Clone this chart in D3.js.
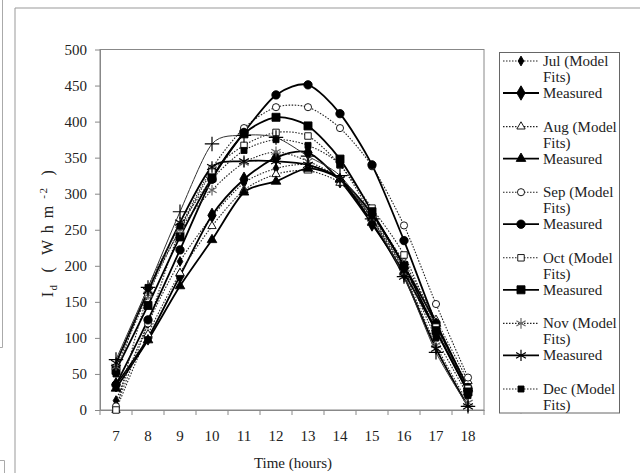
<!DOCTYPE html>
<html>
<head>
<meta charset="UTF-8">
<script src="https://d3js.org/d3.v7.min.js"></script>
<style>
  * { margin: 0; padding: 0; }
  body { background: #fff; }
  text { font-family: "Liberation Serif", "Times New Roman", serif; fill: #222; }
</style>
</head>
<body>
<div id="chart"></div>
<script>
// hours of the day
const hours = [7, 8, 9, 10, 11, 12, 13, 14, 15, 16, 17, 18];
const yTicks = [0, 50, 100, 150, 200, 250, 300, 350, 400, 450, 500];

// Id values (W h m-2)
const julModel    = [13, 120, 206, 268, 315, 335, 340, 320, 265, 195, 115, 35];
const julMeasured = [35, 100, 186, 270, 320, 350, 357, 318, 258, 190, 110, 25];
const augModel    = [0, 105, 190, 255, 305, 327, 332, 315, 270, 205, 125, 40];
const augMeasured = [30, 97, 172, 236, 302, 317, 335, 320, 272, 200, 120, 30];
const sepModel    = [5, 120, 250, 335, 391, 420, 420, 391, 338, 256, 147, 45];
const sepMeasured = [35, 125, 222, 320, 385, 437, 451, 411, 340, 235, 120, 30];
const octModel    = [0, 160, 250, 330, 367, 385, 380, 340, 280, 215, 115, 30];
const octMeasured = [55, 145, 240, 322, 383, 406, 394, 348, 275, 200, 110, 25];
const novModel    = [60, 160, 250, 305, 343, 358, 345, 320, 265, 190, 90, 10];
const novMeasured = [65, 165, 260, 337, 345, 345, 340, 320, 260, 185, 85, 5];
const decModel    = [50, 170, 255, 320, 360, 375, 367, 340, 270, 195, 100, 20];
const decMeasured = [70, 170, 275, 369, 381, 378, 352, 325, 265, 185, 80, 5];

const series = [
  {name: "Jul (Model", values: julModel, kind: "model", sym: d3.symbolDiamond, fill: "#000", size: 28},
  {name: "Measured", values: julMeasured, kind: "meas", sym: d3.symbolDiamond, fill: "#000", size: 60},
  {name: "Aug (Model", values: augModel, kind: "model", sym: d3.symbolTriangle, fill: "#fff", size: 30},
  {name: "Measured", values: augMeasured, kind: "meas", sym: d3.symbolTriangle, fill: "#000", size: 40},
  {name: "Sep (Model", values: sepModel, kind: "model", sym: d3.symbolCircle, fill: "#fff", size: 40},
  {name: "Measured", values: sepMeasured, kind: "meas", sym: d3.symbolCircle, fill: "#000", size: 55},
  {name: "Oct (Model", values: octModel, kind: "model", sym: d3.symbolSquare, fill: "#fff", size: 42},
  {name: "Measured", values: octMeasured, kind: "meas", sym: d3.symbolSquare, fill: "#000", size: 64},
  {name: "Nov (Model", values: novModel, kind: "model", sym: d3.symbolAsterisk, fill: "none", size: 80},
  {name: "Measured", values: novMeasured, kind: "meas", sym: d3.symbolAsterisk, fill: "none", size: 90},
  {name: "Dec (Model", values: decModel, kind: "model", sym: d3.symbolSquare, fill: "#000", size: 36},
  {name: "Measured", values: decMeasured, kind: "thin", sym: d3.symbolPlus, fill: "none", size: 70}
];

const FONT = "Liberation Serif";
const W = 640, H = 473;
const svg = d3.select("#chart").append("svg")
  .attr("width", W).attr("height", H);

// page frame bits
svg.append("path")
  .attr("d", "M15,473 V8 H640")
  .attr("fill", "none").attr("stroke", "#999").attr("stroke-width", 1);
svg.append("path")
  .attr("d", "M2.5,0 V347.5 H0")
  .attr("fill", "none").attr("stroke", "#aaa").attr("stroke-width", 1);
svg.append("path")
  .attr("d", "M0,460.5 H4.5 V473")
  .attr("fill", "none").attr("stroke", "#aaa").attr("stroke-width", 1);

const x = d3.scaleBand().domain(hours).range([100, 484]);
const y = d3.scaleLinear().domain([0, 500]).range([410, 49.5]);
const cx = h => x(h) + x.bandwidth() / 2;

// plot box
svg.append("rect")
  .attr("x", 100).attr("y", 49.5).attr("width", 384).attr("height", 360.5)
  .attr("fill", "none").attr("stroke", "#888").attr("stroke-width", 1);

// y axis
const yAxis = svg.append("g")
  .attr("transform", "translate(100,0)")
  .call(d3.axisLeft(y).tickValues(yTicks).tickSize(5).tickPadding(8).tickSizeOuter(0));
yAxis.select(".domain").attr("stroke", "#888");
yAxis.selectAll("line").attr("stroke", "#888");
yAxis.selectAll("text").style("font-size", "15px").style("font-family", FONT).style("fill", "#222");

// x axis
const xAxis = svg.append("g")
  .attr("transform", "translate(0,410)")
  .call(d3.axisBottom(x).tickSize(0).tickPadding(20).tickSizeOuter(0));
xAxis.select(".domain").attr("stroke", "#888");
xAxis.selectAll("text").style("font-size", "15px").style("font-family", FONT).style("fill", "#222");
xAxis.selectAll(".bnd")
  .data(hours.concat(["end"]))
  .enter().append("line")
  .attr("class", "bnd")
  .attr("x1", d => d === "end" ? x.range()[1] : x(d))
  .attr("x2", d => d === "end" ? x.range()[1] : x(d))
  .attr("y1", 0).attr("y2", 5)
  .attr("stroke", "#888");

// axis titles
svg.append("text")
  .attr("x", 293).attr("y", 468)
  .attr("text-anchor", "middle")
  .style("font-size", "15px").style("font-family", FONT)
  .text("Time (hours)");

const yl = svg.append("text")
  .attr("transform", "translate(53,233) rotate(-90)")
  .attr("text-anchor", "middle")
  .attr("xml:space", "preserve")
  .style("font-size", "16px").style("font-family", FONT)
  .style("letter-spacing", "1.5px");
yl.append("tspan").text("I");
yl.append("tspan").attr("dy", 4).style("font-size", "11px").text("d");
yl.append("tspan").attr("dy", -4).text("  (  W h m ");
yl.append("tspan").attr("dy", -6).style("font-size", "11px").text("-2");
yl.append("tspan").attr("dy", 6).text("  )");

// lines
const line = d3.line()
  .x((d, i) => cx(hours[i]))
  .y(d => y(d))
  .curve(d3.curveCardinal.tension(0.2));

function styleLine(sel, s) {
  if (s.kind === "model") {
    sel.attr("stroke", "#222").attr("stroke-width", 1.1).attr("stroke-dasharray", "1.5,1.5");
  } else if (s.kind === "meas") {
    sel.attr("stroke", "#000").attr("stroke-width", 1.8);
  } else {
    sel.attr("stroke", "#333").attr("stroke-width", 1);
  }
}

function drawMarker(g, s, px, py) {
  const stroked = s.fill === "none";
  g.append("path")
    .attr("d", d3.symbol().type(s.sym).size(s.size)())
    .attr("transform", `translate(${px},${py})`)
    .attr("fill", stroked ? "none" : s.fill)
    .attr("stroke", s.kind === "model" && s.sym === d3.symbolAsterisk ? "#666" : "#000")
    .attr("stroke-width", stroked ? 1.2 : 0.9);
}

series.forEach(s => {
  svg.append("path")
    .datum(s.values)
    .attr("d", line)
    .attr("fill", "none")
    .call(styleLine, s);
});

series.forEach(s => {
  const g = svg.append("g");
  s.values.forEach((v, i) => drawMarker(g, s, cx(hours[i]), y(v)));
});

// legend (clipped to its box, as in the original)
svg.append("clipPath").attr("id", "lgclip")
  .append("rect").attr("x", 499).attr("y", 52).attr("width", 121).attr("height", 361.5);
const lg = svg.append("g");
lg.append("rect")
  .attr("x", 499.5).attr("y", 52.5).attr("width", 120).attr("height", 360.5)
  .attr("fill", "#fff").attr("stroke", "#666").attr("stroke-width", 1);
const items = lg.append("g").attr("clip-path", "url(#lgclip)");

series.forEach((s, i) => {
  const m = Math.floor(i / 2);
  const y0 = 61 + m * 65.6;
  const ly = s.kind === "model" ? y0 : y0 + 32;
  const item = items.append("g");
  item.append("line")
    .attr("x1", 503).attr("x2", 539).attr("y1", ly).attr("y2", ly)
    .attr("fill", "none")
    .call(styleLine, s);
  drawMarker(item, s, 521, ly);
  item.append("text")
    .attr("x", 543).attr("y", ly + 5)
    .style("font-size", "15px").style("font-family", FONT)
    .text(s.name);
  if (s.kind === "model") {
    item.append("text")
      .attr("x", 543).attr("y", y0 + 21)
      .style("font-size", "15px").style("font-family", FONT)
      .text("Fits)");
  }
});
</script>
</body>
</html>
